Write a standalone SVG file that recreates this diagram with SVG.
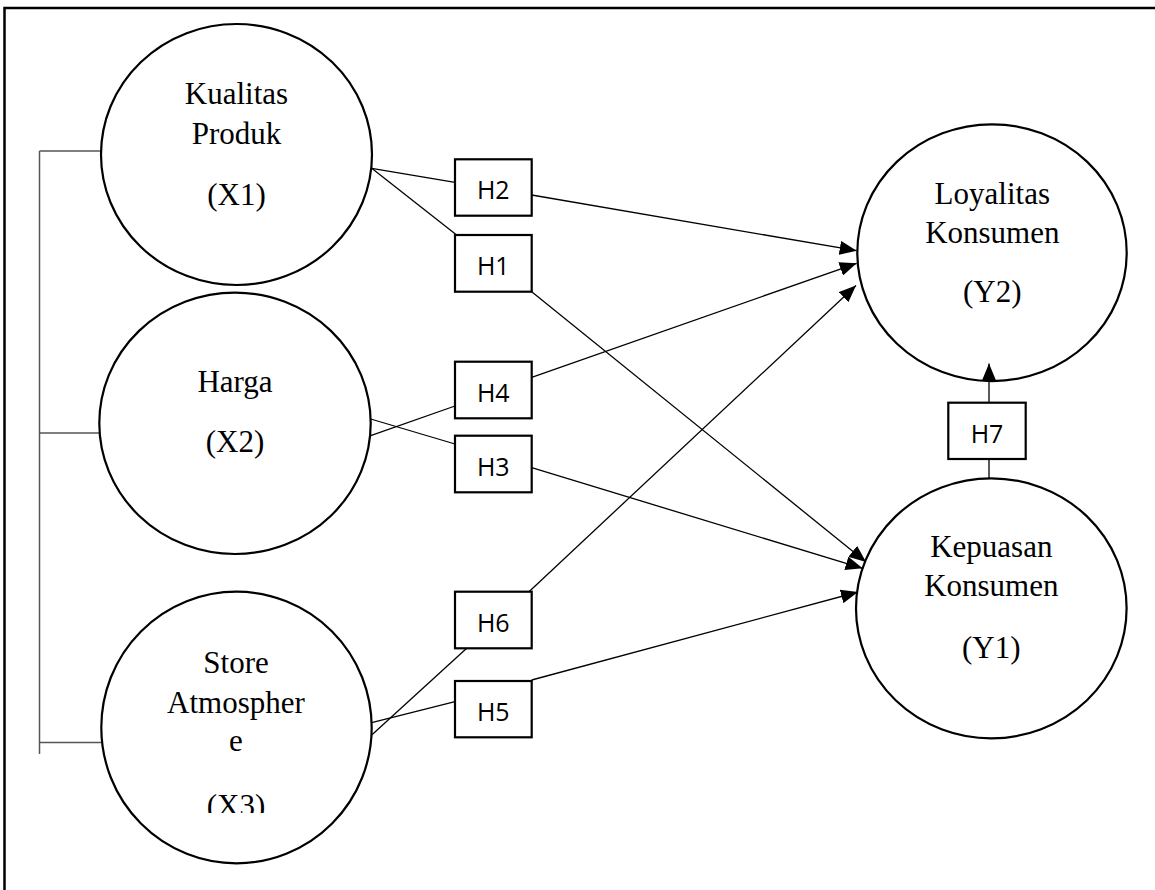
<svg xmlns="http://www.w3.org/2000/svg" width="1155" height="890" viewBox="0 0 1155 890">
<style>
.node{fill:#fff;stroke:#000;stroke-width:2.2}
.box{fill:#fff;stroke:#000;stroke-width:2.2}
.lbl{font-family:"Liberation Serif","Times New Roman",serif;font-size:31px;fill:#000;text-anchor:middle}
.h{font-family:"Open Sans","Liberation Sans",sans-serif;font-size:25px;fill:#000;text-anchor:middle}
.ln{stroke:#000;stroke-width:1.3;fill:none}
.br{stroke:#555;stroke-width:1.5;fill:none}
</style>
<defs>
<marker id="ah" markerUnits="userSpaceOnUse" markerWidth="18" markerHeight="14" refX="17" refY="7" orient="auto">
<path d="M0,0 L17,7 L0,14 z" fill="#000"/>
</marker>
<clipPath id="clipX3"><rect x="0" y="0" width="1155" height="813"/></clipPath>
</defs>
<rect x="0" y="0" width="1155" height="890" fill="#fff"/>
<path d="M4.5,892 V8 H1157" fill="none" stroke="#000" stroke-width="2.5"/>
<g id="bracket">
<path class="br" d="M39.5,151 V754"/>
<path class="br" d="M39.5,151 H101"/>
<path class="br" d="M39.5,433 H99"/>
<path class="br" d="M39.5,742.5 H101"/>
</g>
<g id="X1">
<ellipse class="node" cx="236.5" cy="154.5" rx="135.5" ry="130.5"/>
<text class="lbl" x="236.5" y="103.5">Kualitas</text>
<text class="lbl" x="236.5" y="143.5">Produk</text>
<text class="lbl" x="236.5" y="204.5">(X1)</text>
</g>
<g id="X2">
<ellipse class="node" cx="235" cy="423.3" rx="135.7" ry="130.7"/>
<text class="lbl" x="235" y="391.7">Harga</text>
<text class="lbl" x="235" y="452">(X2)</text>
</g>
<g id="X3">
<ellipse class="node" cx="236.5" cy="727.5" rx="135.2" ry="135.8"/>
<text class="lbl" x="236" y="672.7">Store</text>
<text class="lbl" x="236" y="712.7">Atmospher</text>
<text class="lbl" x="236" y="751">e</text>
<text class="lbl" x="236" y="816" clip-path="url(#clipX3)">(X3)</text>
</g>
<g id="Y2">
<ellipse class="node" cx="992" cy="252.7" rx="134.7" ry="128.4"/>
<text class="lbl" x="992.3" y="204">Loyalitas</text>
<text class="lbl" x="992.3" y="242.7">Konsumen</text>
<text class="lbl" x="992.3" y="302">(Y2)</text>
</g>
<g id="Y1">
<ellipse class="node" cx="991.3" cy="608.3" rx="135.3" ry="130"/>
<text class="lbl" x="991.3" y="556.7">Kepuasan</text>
<text class="lbl" x="991.3" y="596">Konsumen</text>
<text class="lbl" x="991.3" y="658">(Y1)</text>
</g>
<g id="connectors">
<line class="ln" x1="371.7" y1="168.3" x2="455" y2="182.3"/>
<line class="ln" x1="371.7" y1="168.3" x2="456" y2="234.5"/>
<line class="ln" x1="531.7" y1="195" x2="856.7" y2="250.7" marker-end="url(#ah)"/>
<line class="ln" x1="531.7" y1="291.7" x2="866" y2="562" marker-end="url(#ah)"/>
<line class="ln" x1="370.7" y1="435.7" x2="455" y2="406"/>
<line class="ln" x1="531.7" y1="377.3" x2="856.7" y2="263.3" marker-end="url(#ah)"/>
<line class="ln" x1="370.7" y1="419" x2="455" y2="444"/>
<line class="ln" x1="531.7" y1="467.7" x2="862.6" y2="568.3" marker-end="url(#ah)"/>
<line class="ln" x1="371.7" y1="722.7" x2="455" y2="701.7"/>
<line class="ln" x1="531.7" y1="680" x2="858" y2="592" marker-end="url(#ah)"/>
<line class="ln" x1="371.7" y1="735" x2="466.7" y2="648.3"/>
<line class="ln" x1="529" y1="591.7" x2="856" y2="285.5" marker-end="url(#ah)"/>
<line class="ln" x1="989" y1="478.3" x2="989" y2="459"/>
<line class="ln" x1="989" y1="402.7" x2="989" y2="363.5" marker-end="url(#ah)"/>
</g>
<g id="H2"><rect class="box" x="455" y="159.3" width="76.7" height="56.4"/><text class="h" x="493.3" y="199.3">H2</text></g>
<g id="H1"><rect class="box" x="455" y="235" width="76.7" height="56.7"/><text class="h" x="493.3" y="275">H1</text></g>
<g id="H4"><rect class="box" x="455" y="361.7" width="76.7" height="56.6"/><text class="h" x="493.3" y="401.7">H4</text></g>
<g id="H3"><rect class="box" x="455" y="435.7" width="76.7" height="56.6"/><text class="h" x="493.3" y="475.7">H3</text></g>
<g id="H6"><rect class="box" x="455" y="591.7" width="76.7" height="56.6"/><text class="h" x="493.3" y="631.7">H6</text></g>
<g id="H5"><rect class="box" x="455" y="681" width="76.7" height="56.3"/><text class="h" x="493.3" y="721">H5</text></g>
<g id="H7"><rect class="box" x="948.3" y="402.7" width="77.4" height="56.3"/><text class="h" x="987" y="442.7">H7</text></g>
</svg>
